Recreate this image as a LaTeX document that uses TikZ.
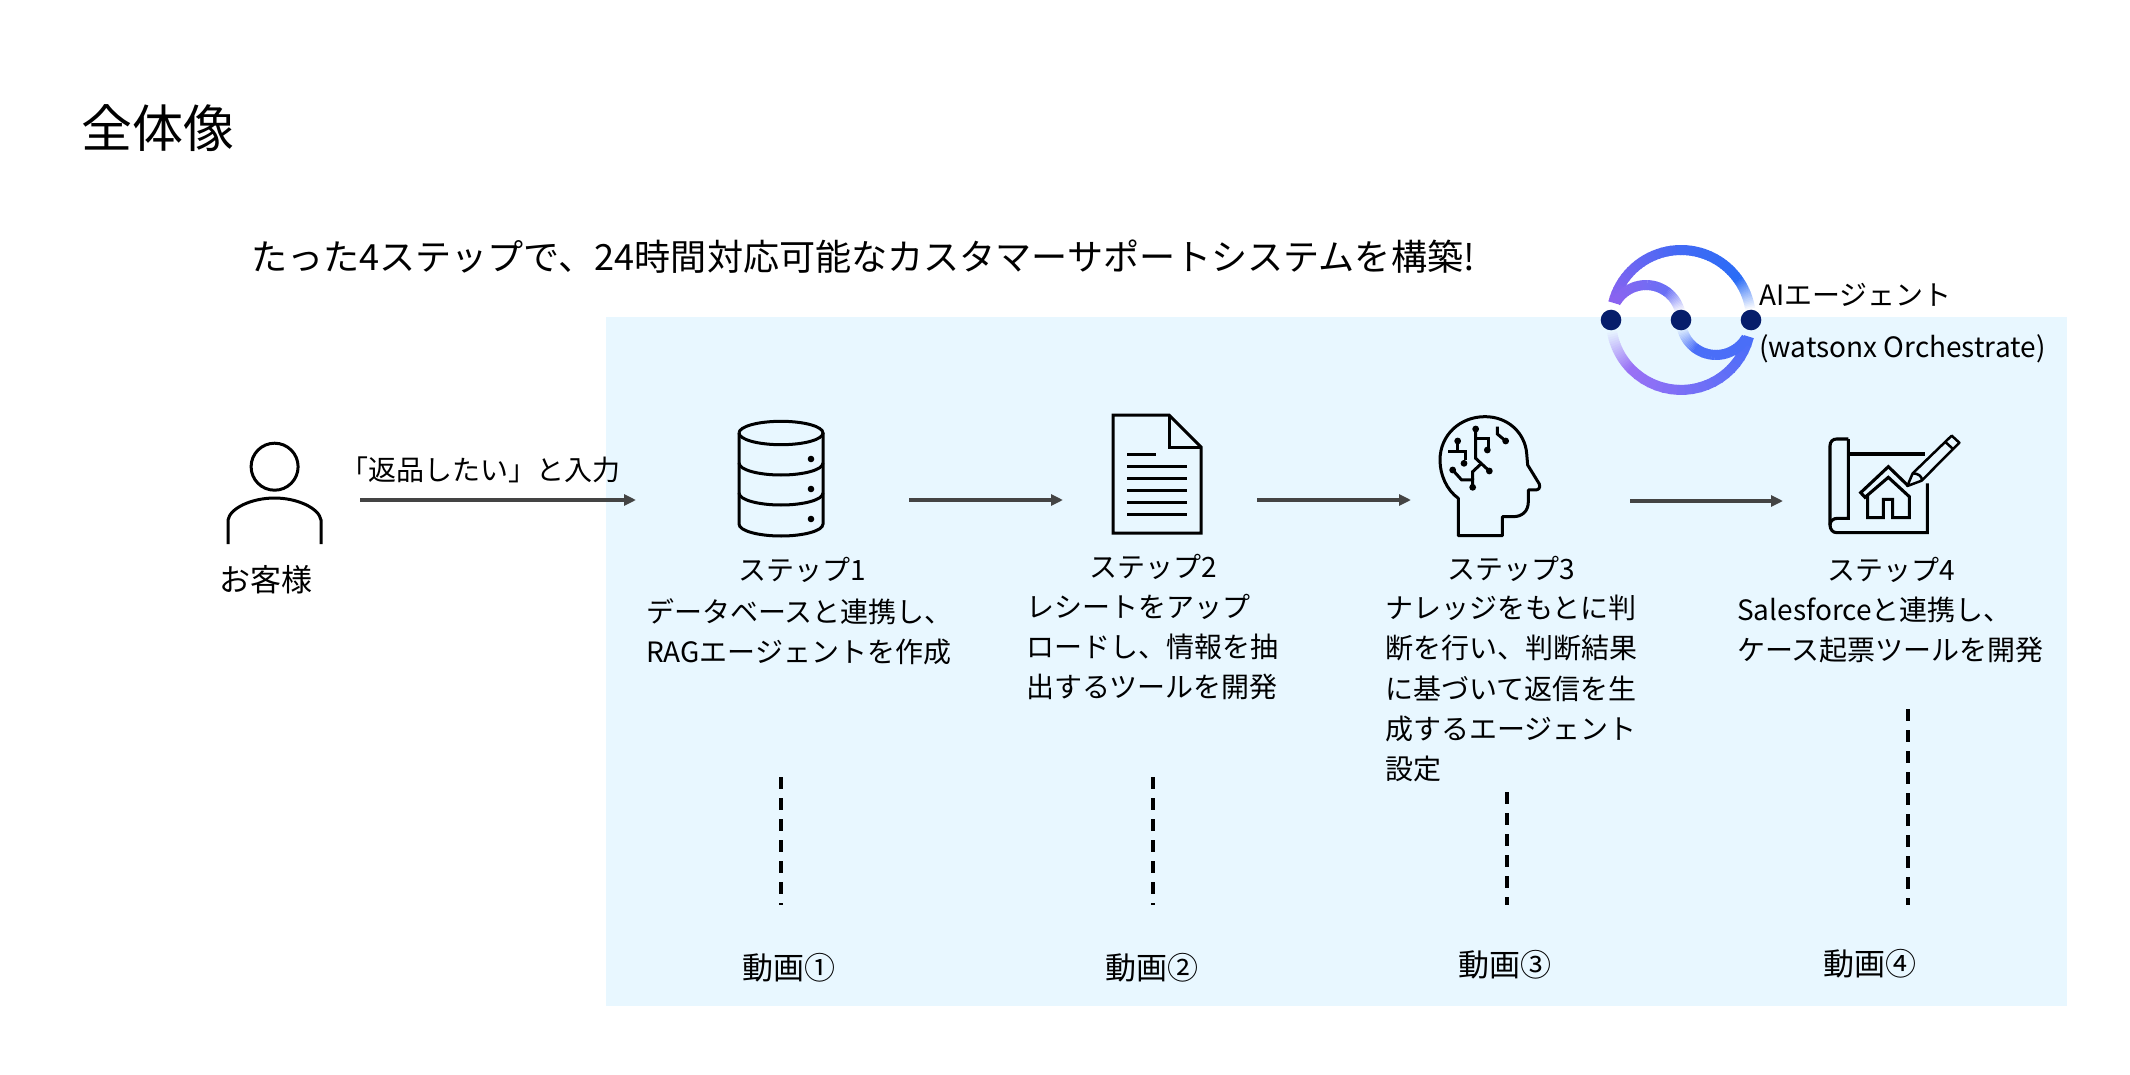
\documentclass[tikz,border=0pt]{standalone}
\usepackage{fontspec}
\setmainfont{Noto Sans CJK JP}
\usetikzlibrary{arrows.meta}
\definecolor{panelc}{HTML}{E8F7FF}
\definecolor{arrowc}{HTML}{444444}
\definecolor{dotc}{HTML}{061D6B}
\definecolor{lgblue}{HTML}{2A6CF6}
\definecolor{lgpurp}{HTML}{8A63F0}
\definecolor{lgmid}{HTML}{6A6FF5}
\definecolor{lgvio}{HTML}{9870F5}
\definecolor{lgbl}{HTML}{4A6EF8}
\newcommand{\gradseg}[7]{%
 \foreach \i in {0,...,19}{%
  \pgfmathsetmacro\aa{#4+(#5-#4)*\i/20}%
  \pgfmathsetmacro\bb{#4+(#5-#4)*(\i+1.2)/20}%
  \pgfmathsetmacro\pp{100*\i/19}%
  \colorlet{segc}{#7!\pp!#6}%
  \draw[line width=10pt,segc] ({#1+#3*cos(\aa)},{#2-#3*sin(\aa)}) -- ({#1+#3*cos(\bb)},{#2-#3*sin(\bb)});
 }}
\tikzset{
 label/.style={font=\fontsize{28}{40.2}\selectfont,inner sep=0pt,text=black},
 biglabel/.style={label,font=\fontsize{31}{31}\selectfont,anchor=center},
 blocktext/.style={label,anchor=north west,align=left},
 flow/.style={arrowc,line width=3.3pt,-{Triangle[length=12pt,width=11pt]},shorten >=0pt},
 dashline/.style={black,line width=3.2pt,dash pattern=on 12pt off 9pt},
 icon/.style={black,line width=3pt,line join=miter},
 iconthin/.style={black,line width=3pt},
 iconplan/.style={black,line width=3.1pt,line join=miter},
}
\begin{document}
\begin{tikzpicture}[x=1pt,y=-1pt]
\useasboundingbox (0,0) rectangle (2130,1075);
\fill[white] (0,0) rectangle (2130,1075);
\fill[panelc] (606,317) rectangle (2067,1006);
% titles
\node[anchor=west,inner sep=0pt,font=\fontsize{51}{51}\selectfont] (title) at (81,128) {全体像};
\node[anchor=west,inner sep=0pt,font=\fontsize{36.1}{36.1}\selectfont] (subtitle) at (251,257) {たった4ステップで、24時間対応可能なカスタマーサポートシステムを構築!};
% logo
\gradseg{1681}{320}{70}{8}{36}{white}{lgblue}
\gradseg{1681}{320}{70}{36}{90}{lgblue}{lgblue!75!lgpurp}
\gradseg{1681}{320}{70}{90}{165}{lgblue!75!lgpurp}{lgpurp}
\gradseg{1646}{320}{35}{150}{55}{lgpurp}{lgmid}
\gradseg{1646}{320}{35}{55}{12}{lgmid}{white}
\gradseg{1681}{320}{70}{188}{225}{panelc}{lgvio}
\gradseg{1681}{320}{70}{225}{345}{lgvio}{lgbl}
\gradseg{1716}{320}{35}{330}{235}{lgbl}{lgbl}
\gradseg{1716}{320}{35}{235}{192}{lgbl}{panelc}
\fill[dotc] (1611,320) circle (10.3);
\fill[dotc] (1681,320) circle (10.3);
\fill[dotc] (1751,320) circle (10.3);
\node[label,anchor=west] (agent1) at (1759,295) {AIエージェント};
\node[label,anchor=west] (agent2) at (1759,349) {(watsonx Orchestrate)};
% person
\draw[icon] (274.6,466.7) circle (23.5);
\draw[icon] (228,544) -- (228,520) .. controls (230,508) and (252,498) .. (274.6,498) .. controls (297,498) and (319,508) .. (321,520) -- (321,544);
\node[biglabel] (customer) at (266,580) {お客様};
\node[label,anchor=west] (input) at (340,469.5) {「返品したい」と入力};
% arrows
\coordinate (a1s) at (360,500); \coordinate (a1e) at (636,500);
\coordinate (a2s) at (909,500); \coordinate (a2e) at (1063,500);
\coordinate (a3s) at (1257,500); \coordinate (a3e) at (1411,500);
\coordinate (a4s) at (1630,501); \coordinate (a4e) at (1783,501);
\draw[flow] (a1s) -- (a1e);
\draw[flow] (a2s) -- (a2e);
\draw[flow] (a3s) -- (a3e);
\draw[flow] (a4s) -- (a4e);
% database
\begin{scope}[icon]
\draw (739,433) arc[start angle=180,end angle=-180,x radius=42,y radius=11.7];
\draw (739,433) -- (739,524) .. controls (739,531) and (759,536) .. (781,536) .. controls (803,536) and (823,531) .. (823,524) -- (823,433);
\draw (739,463) .. controls (739,470) and (759,475) .. (781,475) .. controls (803,475) and (823,470) .. (823,463);
\draw (739,493) .. controls (739,500) and (759,505) .. (781,505) .. controls (803,505) and (823,500) .. (823,493);
\end{scope}
\fill (811,459) circle (3.3); \fill (811,489) circle (3.3); \fill (811,519) circle (3.3);
% document
\begin{scope}[icon]
\draw (1113,415) -- (1169,415) -- (1201,447) -- (1201,533) -- (1113,533) -- cycle;
\draw (1169,415) -- (1169,447) -- (1201,447);
\end{scope}
\draw[iconthin] (1127,454) -- (1156,454);
\foreach \yy in {466,478,490,502,514} \draw[iconthin] (1127,\yy) -- (1187,\yy);
% head
\begin{scope}[shift={(1430,410)},x=0.3333pt,y=-0.3333pt]
\draw[icon,line join=round] (85,265) .. controls (50,240) and (30,195) .. (30,150) .. controls (30,75) and (90,20) .. (165,20) .. controls (235,20) and (285,70) .. (290,130) -- (293,165) -- (328,222) .. controls (332,235) and (325,240) .. (315,240) -- (295,240) -- (295,275) .. controls (295,305) and (275,320) .. (250,320) -- (217,320) -- (217,377) -- (85,377) -- cycle;
\draw[iconthin] (83,93) -- (83,125);
\draw[iconthin] (55,125) -- (105,125) -- (105,150);
\draw[iconthin] (137,57) -- (137,145) -- (178,183);
\draw[iconthin] (137,85) -- (175,85) -- (175,120);
\draw[iconthin] (68,180) -- (95,210) -- (128,210) -- (128,232);
\draw[iconthin] (128,210) -- (128,185) -- (155,160);
\draw[iconthin] (202,50) -- (202,72) -- (227,93);
\foreach \pa/\pb in {83/93,102/160,137/57,172/120,178/183,68/180,128/232,227/93} \fill (\pa,\pb) circle (3.4pt);
\end{scope}
% blueprint
\begin{scope}[shift={(1820,420)},x=0.3333pt,y=-0.3333pt]
\draw[iconplan] (85,57) -- (50,57) .. controls (38,57) and (30,65) .. (30,78) -- (30,315) .. controls (30,328) and (38,338) .. (50,338) -- (322,338) -- (322,190);
\draw[iconplan] (85,57) -- (85,295) -- (52,295) .. controls (40,295) and (30,303) .. (30,315);
\draw[iconplan] (85,102) -- (315,102);
\draw[iconplan] (265,198) -- (205,140) -- (122,218) -- (135,232) -- (205,172) -- (268,230) -- (268,293) -- (218,293) -- (218,238) -- (190,238) -- (190,293) -- (143,293) -- (143,228);
\draw[iconplan,line width=2.5pt,line join=round] (278,160) -- (262,198) -- (305,182) -- (418,68) -- (395,47) -- cycle;
\draw[iconplan,line width=2.5pt] (278,160) .. controls (295,160) and (308,170) .. (305,182);
\draw[iconplan,line width=2.5pt] (375,65) -- (400,88);
\end{scope}
% step labels
\node[label,anchor=center] (s1) at (802,570) {ステップ1};
\node[blocktext] (t1) at (646,598) {データベースと連携し、\\RAGエージェントを作成};
\node[label,anchor=center] (s2) at (1153,567) {ステップ2};
\node[blocktext] (t2) at (1026,594) {レシートをアップ\\ロードし、情報を抽\\出するツールを開発};
\node[label,anchor=center] (s3) at (1511,569) {ステップ3};
\node[blocktext] (t3) at (1385,595) {ナレッジをもとに判\\断を行い、判断結果\\に基づいて返信を生\\成するエージェント\\設定};
\node[label,anchor=center] (s4) at (1891,570) {ステップ4};
\node[blocktext] (t4) at (1737,597) {Salesforceと連携し、\\ケース起票ツールを開発};
% dashed
\coordinate (d1s) at (781,777); \coordinate (d1e) at (781,905);
\coordinate (d2s) at (1153,777); \coordinate (d2e) at (1153,905);
\coordinate (d3s) at (1507,792); \coordinate (d3e) at (1507,905);
\coordinate (d4s) at (1908,709); \coordinate (d4e) at (1908,905);
\draw[dashline] (d1s) -- (d1e);
\draw[dashline] (d2s) -- (d2e);
\draw[dashline] (d3s) -- (d3e);
\draw[dashline] (d4s) -- (d4e);
\node[biglabel] (v1) at (789,968) {動画①};
\node[biglabel] (v2) at (1152,968) {動画②};
\node[biglabel] (v3) at (1505,965) {動画③};
\node[biglabel] (v4) at (1870,964) {動画④};
\end{tikzpicture}
\end{document}
